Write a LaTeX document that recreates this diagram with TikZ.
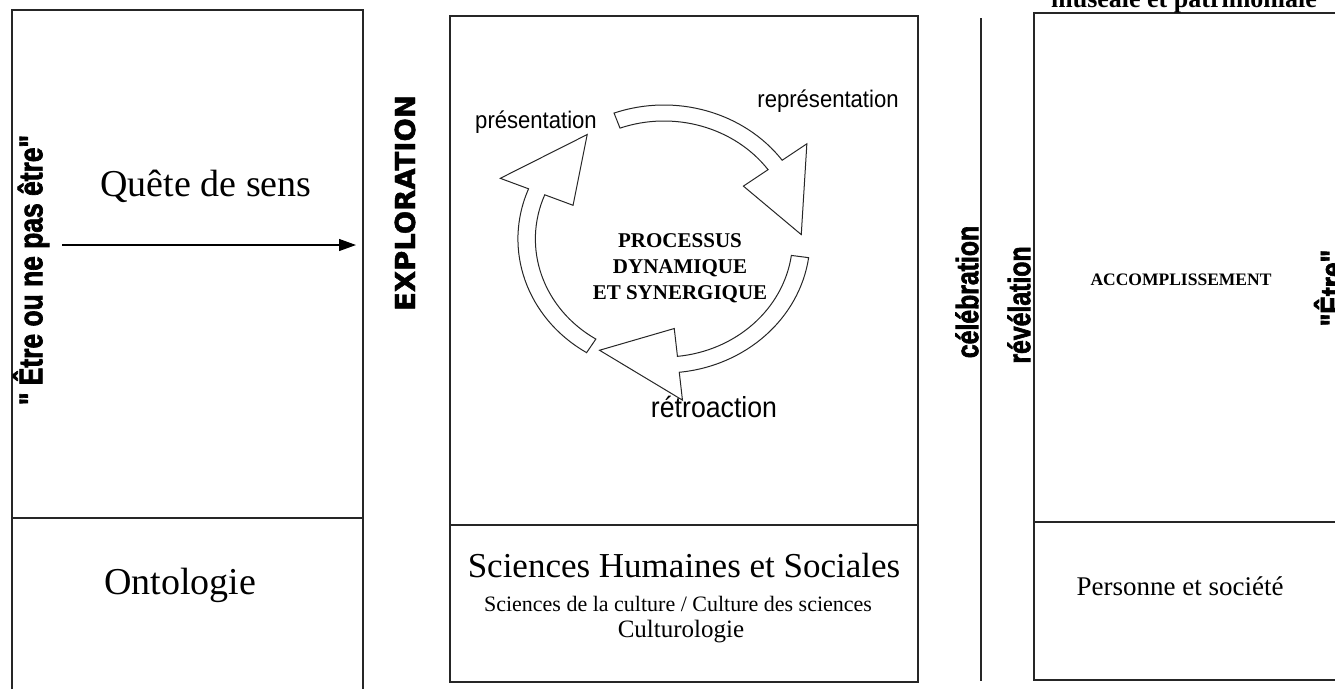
\documentclass[tikz,border=0pt]{standalone}
\usepackage{fontspec}
\setmainfont{Liberation Serif}
\newfontfamily\narrowsans[FakeStretch=0.92]{Liberation Sans}
\newfontfamily\impactish[FakeStretch=0.8,FakeBold=2]{Liberation Sans Bold}
\newfontfamily\blacksans[FakeBold=1.5]{DejaVu Sans Bold}
\usetikzlibrary{arrows.meta}
\begin{document}
\begin{tikzpicture}[x=1pt,y=-1pt,
  boxline/.style={line width=1.4pt, black!85},
  cyc/.style={line width=1pt, fill=white, draw=black!85},
  lbl/.style={inner sep=0pt, anchor=center},
  vtext/.style={inner sep=0pt, anchor=center, rotate=90},
]
\useasboundingbox (0,0) rectangle (1335,689);
% left box
\draw[boxline] (12,689) -- (12,10) -- (363,10) -- (363,689);
\draw[boxline] (12,518) -- (363,518);
% middle box
\draw[boxline] (450,16) rectangle (918,682);
\draw[boxline] (450,525) -- (918,525);
% separator line
\draw[boxline] (981,18) -- (981,681);
% right box
\draw[boxline] (1335,13) -- (1034,13) -- (1034,680) -- (1335,680);
\draw[boxline] (1034,522) -- (1335,522);

% left texts
\node[vtext] (etre) at (31,270) {\impactish\fontsize{33}{33}\selectfont " Être ou ne pas être"};
\node[lbl] (quete) at (206,186) {\fontsize{38}{38}\selectfont Quête de sens};
\coordinate (qa) at (62,245);
\coordinate (qb) at (356,245);
\draw[line width=1.2pt, -{Triangle[length=17pt,width=12pt]}] (qa) -- (qb);
\node[lbl] (onto) at (180,585) {\fontsize{38}{38}\selectfont Ontologie};

% exploration
\node[vtext] (explo) at (405,203) {\blacksans\fontsize{27.5}{27.5}\selectfont EXPLORATION};

% cycle
\begin{scope}[shift={(664,239)}, yscale=-1, xscale=1.09]
  % arrow 1 (presentation)
  \draw[cyc] (238:134) arc[start angle=238, end angle=158, radius=134]
     -- (158:162) -- (124:126) -- (158:90) -- (158:118)
     arc[start angle=158, end angle=238, radius=118] -- cycle;
  % arrow 2 (representation)
  \draw[cyc] (110:134) arc[start angle=110, end angle=36, radius=134]
     -- (36:162) -- (2:126) -- (36:90) -- (36:118)
     arc[start angle=36, end angle=110, radius=118] -- cycle;
  % arrow 3 (retroaction)
  \draw[cyc] (-8:134) arc[start angle=-8, end angle=-84, radius=134]
     -- (-84:162) -- (-118:126) -- (-84:90) -- (-84:118)
     arc[start angle=-84, end angle=-8, radius=118] -- cycle;
\end{scope}
\node[lbl] (pres) at (536,122) {\narrowsans\fontsize{24}{24}\selectfont présentation};
\node[lbl] (repres) at (828,101) {\narrowsans\fontsize{24}{24}\selectfont représentation};
\node[lbl] (retro) at (714,407) {\narrowsans\fontsize{29}{29}\selectfont rétroaction};
\node[lbl, align=center, font={\bfseries\fontsize{21}{26}\selectfont}] (proc) at (680,268) {PROCESSUS\\DYNAMIQUE\\ET SYNERGIQUE};

% middle bottom
\node[lbl] (shs) at (684,566) {\fontsize{35}{35}\selectfont Sciences Humaines et Sociales};
\node[lbl] (scult) at (678,604) {\fontsize{22}{22}\selectfont Sciences de la culture / Culture des sciences};
\node[lbl] (cultu) at (681,632) {\fontsize{25}{25}\selectfont Culturologie};

% celebration / revelation
\node[vtext] (celeb) at (967,292) {\impactish\fontsize{31}{31}\selectfont célébration};
\node[vtext] (revel) at (1019,305) {\impactish\fontsize{31}{31}\selectfont révélation};

% right
\node[lbl, anchor=base] (musee) at (1184,7) {\bfseries\fontsize{26}{26}\selectfont muséale et patrimoniale};
\node[lbl] (accomp) at (1181,280) {\bfseries\fontsize{17.5}{17.5}\selectfont ACCOMPLISSEMENT};
\node[vtext] (etre2) at (1329,288) {\impactish\fontsize{33}{33}\selectfont "Être"};
\node[lbl] (perso) at (1180,586) {\fontsize{27}{27}\selectfont Personne et société};
\end{tikzpicture}
\end{document}
